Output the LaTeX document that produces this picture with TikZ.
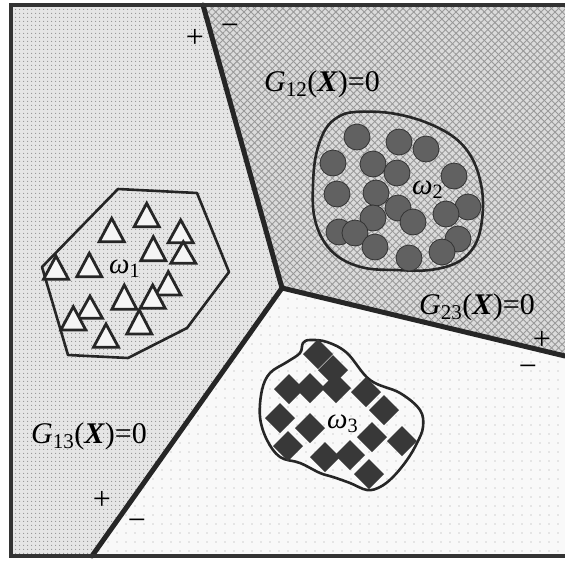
\documentclass[tikz,border=0pt]{standalone}
\usepackage{fontspec}
\setmainfont{Liberation Serif}
\usetikzlibrary{patterns.meta}
\begin{document}
\begin{tikzpicture}[x=1pt,y=-1pt,
  bnd/.style={line width=5pt, line cap=round, black!85},
  framel/.style={line width=4pt, black!80},
  blob/.style={line width=2.6pt, black!85, line join=round},
  tri/.style={line width=2.8pt, draw=black!85, fill=gray!8, line join=miter},
  ball/.style={fill=black!62, draw=black!80, line width=0.8pt},
  dia/.style={fill=black!78},
  lab/.style={font=\fontsize{30}{30}\selectfont, inner sep=0pt, anchor=base west, text=black},
  omega/.style={font=\fontsize{29}{29}\selectfont\itshape, inner sep=0pt, anchor=base west, text=black},
  sign/.style={font=\fontsize{32}{32}\selectfont, inner sep=0pt, text=black}]
\useasboundingbox[fill=white] (0,0) rectangle (565,560);
\coordinate (TL) at (11,5); \coordinate (T) at (203,5); \coordinate (TR) at (565,5);
\coordinate (C) at (282,288); \coordinate (R) at (565,356); \coordinate (BR) at (565,556);
\coordinate (B) at (92,556); \coordinate (BL) at (11,556);
% region 1
\fill[gray!20] (TL)--(T)--(C)--(B)--(BL)--cycle;
\fill[pattern={Dots[distance=4pt,radius=0.7pt]}, pattern color=gray!85] (TL)--(T)--(C)--(B)--(BL)--cycle;
% region 2
\fill[gray!28] (T)--(TR)--(R)--(C)--cycle;
\fill[pattern={Lines[angle=45,distance=5pt,line width=0.9pt]}, pattern color=gray!80] (T)--(TR)--(R)--(C)--cycle;
\fill[pattern={Lines[angle=-45,distance=5pt,line width=0.9pt]}, pattern color=gray!80] (T)--(TR)--(R)--(C)--cycle;
% region 3
\fill[gray!5] (C)--(R)--(BR)--(B)--cycle;
\fill[pattern={Dots[distance=9pt,radius=0.7pt]}, pattern color=gray!70] (C)--(R)--(BR)--(B)--cycle;
% class 1
\draw[blob] (118,189)--(197,193)--(229,272)--(187,328)--(128,358)--(68,355)--(42,267)--cycle;
\foreach \x/\a/\b in {146.7/203.3/226.7, 111.7/218.3/241.7, 180.7/220/242.7, 153.3/236.7/260.7,
  183.3/241.7/263.3, 89.3/253.3/276.7, 56/256/279.3, 168.3/271.7/295, 124.3/285/309.3,
  152.7/285/308.3, 90/296/318.3, 73.3/306.7/330, 139.3/310/334, 106/324/347.3}
  \filldraw[tri] (\x,\a) -- (\x+12.5,\b) -- (\x-12.5,\b) -- cycle;
\node[omega] (w1) at (109,273) {ω\textsubscript{\upshape 1}};
% class 2
\draw[blob] plot[smooth cycle, tension=0.6] coordinates {(355,112) (390,113) (425,122) (455,138) (473,160)
  (482,190) (482,220) (475,245) (458,262) (430,270) (395,270) (365,268) (340,258) (323,240)
  (314,215) (313,185) (316,155) (325,130) (338,117)};
\foreach \x/\y in {357/137, 399/142, 426/149, 333/163, 373/164, 397/173, 454/176, 337/194,
  376/193, 398/208, 468/207, 446/214, 373/218, 413/222, 339/232, 355/233, 458/239, 375/247,
  409/258, 442/252}
  \filldraw[ball] (\x,\y) circle[radius=13pt];
\node[omega] (w2) at (412,194) {ω\textsubscript{\upshape 2}};
% class 3
\draw[blob] plot[smooth cycle, tension=0.6] coordinates {(310,340) (327,342) (347,353) (370,380)
  (400,393) (420,410) (423,427) (417,443) (407,460) (393,477) (380,487) (367,490) (350,483)
  (333,477) (320,473) (300,463) (280,457) (267,440) (260,417) (262,390) (270,373) (287,362)
  (300,353) (303,343)};
\foreach \x/\y in {318/354, 333/370, 336/388, 310/388, 289/389, 366/392, 384/410, 280/418,
  310/428, 372/437, 402/441, 288/446, 325/457, 350/455, 369/474}
  \fill[dia] (\x,\y) +(-15,0) -- +(0,-15) -- +(15,0) -- +(0,15) -- cycle;
\node[omega] (w3) at (327,428) {ω\textsubscript{\upshape 3}};
% boundaries
\draw[bnd] (T) -- (C);
\draw[bnd] (C) -- (R);
\draw[bnd] (C) -- (B);
% frame
\draw[framel] (565,5) -- (11,5) -- (11,556) -- (565,556);
% labels
\node[lab] (g12) at (264,91) {\textit{G}\textsubscript{12}(\textbf{\textit{X}})=0};
\node[lab] (g23) at (419,314) {\textit{G}\textsubscript{23}(\textbf{\textit{X}})=0};
\node[lab] (g13) at (31,443) {\textit{G}\textsubscript{13}(\textbf{\textit{X}})=0};
\node[sign] (p12) at (195,38) {+};
\node[sign] (m12) at (230,30) {−};
\node[sign] (p23) at (542,340) {+};
\node[sign] (m23) at (528,371) {−};
\node[sign] (p13) at (102,500) {+};
\node[sign] (m13) at (137,525) {−};
\end{tikzpicture}
\end{document}
